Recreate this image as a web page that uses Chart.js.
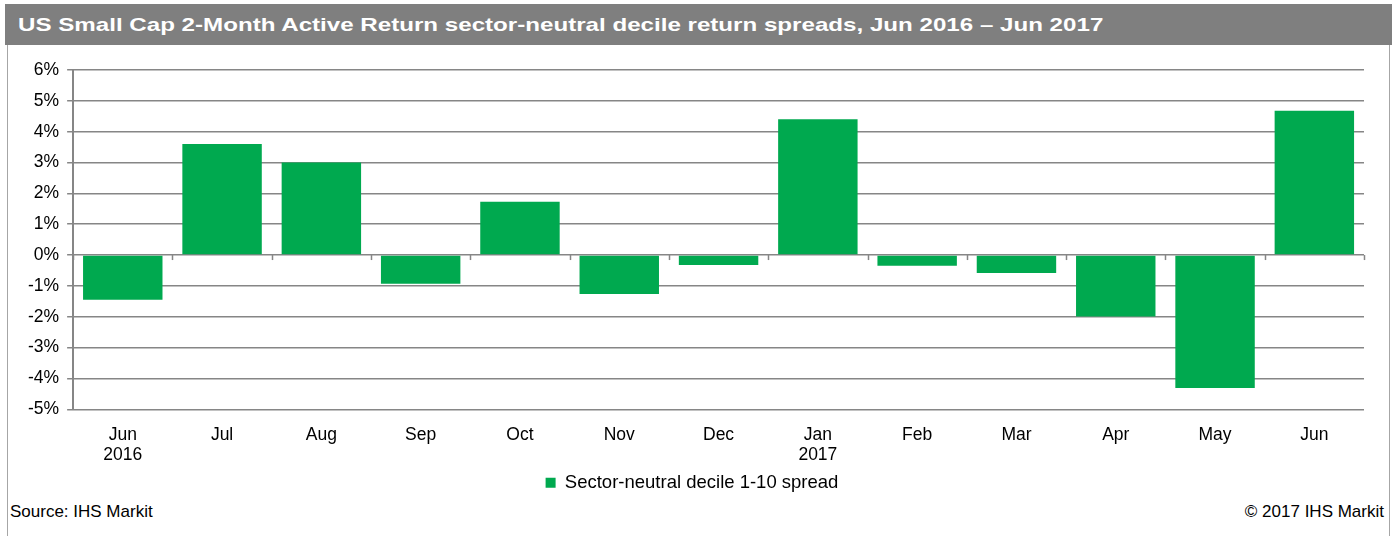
<!DOCTYPE html>
<html>
<head>
<meta charset="utf-8">
<script src="https://cdn.jsdelivr.net/npm/chart.js@4.4.0/dist/chart.umd.min.js"></script>
<style>
  /* ─── Page frame ─── */
  body { margin: 0; background: #fff; font-family: "Liberation Sans", Arial, sans-serif; }
  .frame { position: relative; width: 1392px; height: 536px; overflow: hidden; }
  .title-bar {
    position: absolute; left: 5px; top: 4px; right: 0; height: 41px;
    background: #7f7f7f; color: #fff; font-weight: bold; font-size: 19px;
    line-height: 41px; padding-left: 13px; white-space: nowrap;
  }
  .title-bar span { display: inline-block; transform: scaleX(1.27); transform-origin: left center; }
  .side { position: absolute; top: 45px; bottom: 0; width: 1px; background: #a6a6a6; }
  .chart-box { position: absolute; left: 8px; top: 48px; width: 1380px; height: 454px; }
  .foot { position: absolute; top: 502px; font-size: 17px; color: #000; }
</style>
</head>
<body>
<div class="frame">
  <div class="title-bar"><span>US Small Cap 2-Month Active Return sector-neutral decile return spreads, Jun 2016 – Jun 2017</span></div>
  <div class="side" style="left:7px"></div>
  <div class="side" style="left:1389px"></div>
  <div class="chart-box"><canvas id="chart"></canvas></div>
  <div class="foot" style="left:10px">Source: IHS Markit</div>
  <div class="foot" style="right:8px">© 2017 IHS Markit</div>
</div>
<script>
// ─── Data ───
const months = [['Jun', '2016'], 'Jul', 'Aug', 'Sep', 'Oct', 'Nov', 'Dec', ['Jan', '2017'], 'Feb', 'Mar', 'Apr', 'May', 'Jun'];
const spreadValues = [-1.45, 3.6, 3.0, -0.93, 1.73, -1.26, -0.32, 4.4, -0.35, -0.58, -1.99, -4.31, 4.68];
const seriesName = 'Sector-neutral decile 1-10 spread';
const yMin = -5, yMax = 6;

const GREEN = '#00a94f';
const GRID = '#868686';
const FONT = '"Liberation Sans", Arial, sans-serif';

// small tick marks on the zero line between categories
const zeroTicks = {
  id: 'zeroTicks',
  afterDatasetsDraw(chart) {
    const { ctx, scales: { x, y } } = chart;
    const y0 = y.getPixelForValue(0);
    const step = (x.right - x.left) / months.length;
    ctx.save();
    ctx.strokeStyle = GRID;
    ctx.lineWidth = 1.5;
    for (let i = 0; i <= months.length; i++) {
      const px = Math.round(x.left + i * step) + 0.5;
      ctx.beginPath();
      ctx.moveTo(px, y0);
      ctx.lineTo(px, y0 + 5);
      ctx.stroke();
    }
    ctx.restore();
  }
};

new Chart(document.getElementById('chart'), {
  type: 'bar',
  data: {
    labels: months,
    datasets: [{
      label: seriesName,
      data: spreadValues,
      backgroundColor: GREEN,
      borderWidth: 0,
      barPercentage: 0.8,
      categoryPercentage: 1.0
    }]
  },
  options: {
    responsive: true,
    maintainAspectRatio: false,
    animation: false,
    layout: { padding: { top: 22, right: 24, left: 12, bottom: 0 } },
    plugins: {
      tooltip: { enabled: false },
      legend: {
        position: 'bottom',
        labels: {
          color: '#000', boxWidth: 10, boxHeight: 10, padding: 0,
          font: { family: FONT, size: 18.5 }
        }
      }
    },
    scales: {
      x: {
        grid: { display: false },
        border: { display: false },
        ticks: {
          color: '#000', maxRotation: 0, autoSkip: false, padding: 8,
          font: { family: FONT, size: 17.5, lineHeight: 1.15 }
        }
      },
      y: {
        min: yMin, max: yMax,
        grid: { color: GRID, lineWidth: 1.5, tickLength: 6 },
        border: { display: true, color: GRID, width: 2 },
        ticks: {
          stepSize: 1, color: '#000', padding: 8,
          font: { family: FONT, size: 17.5 },
          callback: v => v + '%'
        }
      }
    }
  },
  plugins: [zeroTicks]
});
</script>
</body>
</html>
